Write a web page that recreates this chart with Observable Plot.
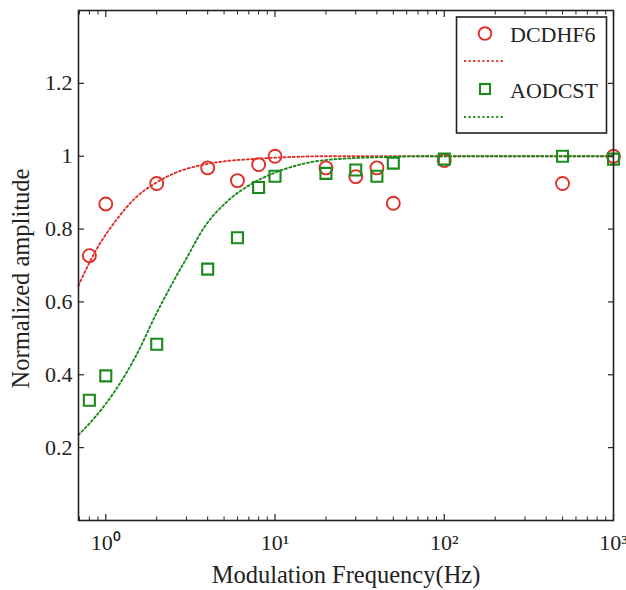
<!DOCTYPE html>
<html><head><meta charset="utf-8">
<script src="https://cdn.jsdelivr.net/npm/d3@7"></script>
<script src="https://cdn.jsdelivr.net/npm/@observablehq/plot@0.6"></script>
<style>
body{margin:0;background:#fff;}
#wrap{position:relative;width:626px;height:590px;}
#legend{position:absolute;left:0;top:0;pointer-events:none;}
</style></head><body><div id="wrap"></div>
<script>
// Measured data
const freq = [0.8, 1, 2, 4, 6, 8, 10, 20, 30, 40, 50, 100, 500, 1000];
const dcdhf6 = [0.727, 0.869, 0.925, 0.968, 0.933, 0.977, 1.0, 0.968, 0.944, 0.968, 0.871, 0.988, 0.925, 1.0];
const aodcst = [0.33, 0.397, 0.484, 0.69, 0.776, 0.914, 0.945, 0.953, 0.962, 0.945, 0.981, 0.992, 1.0, 0.992];

// Fit curves
const fitFreqRed = [0.69, 0.873, 1.146, 1.5, 1.98, 2.6, 3.33, 4.0, 5.0, 7.2, 10, 15, 20, 1000];
const fitRed = [0.645, 0.741, 0.823, 0.886, 0.927, 0.955, 0.971, 0.979, 0.986, 0.992, 0.996, 0.999, 1.0, 1.0];
const fitFreqGreen = [0.69, 0.873, 1.146, 1.5, 2.0, 2.5, 3.0, 3.82, 5.25, 7.2, 10.4, 15.6, 26.9, 48.6, 70, 1000];
const fitGreen = [0.235, 0.286, 0.359, 0.45, 0.57, 0.655, 0.72, 0.805, 0.877, 0.923, 0.958, 0.982, 0.994, 0.998, 1.0, 1.0];

// Axes
const xTicks = [1, 10, 100, 1000];
const xTickLabels = ["10⁰", "10¹", "10²", "10³"];
const xMinorTicks = [0.7, 0.8, 0.9, 2, 3, 4, 5, 6, 7, 8, 9, 20, 30, 40, 50, 60, 70, 80, 90, 200, 300, 400, 500, 600, 700, 800, 900];
const yTicks = [0.2, 0.4, 0.6, 0.8, 1, 1.2];
const yTickLabels = ["0.2", "0.4", "0.6", "0.8", "1", "1.2"];
const seriesNames = ["DCDHF6", "AODCST"];
const xTitle = "Modulation Frequency(Hz)";
const yTitle = "Normalized amplitude";

const RED = "#e0302a", GREEN = "#1a8a1a", INK = "#222";
const FONT = "'Liberation Serif', 'Times New Roman', Times, serif";
const DASH = "2,2.6";

const pts = freq.map((f, i) => ({f, red: dcdhf6[i], green: aodcst[i]}));
const redFit = fitFreqRed.map((f, i) => ({f, v: fitRed[i]}));
const greenFit = fitFreqGreen.map((f, i) => ({f, v: fitGreen[i]}));

const chart = Plot.plot({
  width: 626, height: 590,
  marginLeft: 78, marginRight: 13, marginTop: 10, marginBottom: 70,
  style: {fontFamily: FONT, color: INK, background: "#fff"},
  x: {type: "log", domain: [0.69, 1000], axis: null},
  y: {domain: [0, 1.4], axis: null},
  marks: [
    Plot.line(redFit, {x: "f", y: "v", stroke: RED, strokeWidth: 1.9, strokeDasharray: DASH, curve: "monotone-x"}),
    Plot.line(greenFit, {x: "f", y: "v", stroke: GREEN, strokeWidth: 1.9, strokeDasharray: DASH, curve: "monotone-x"}),
    Plot.dot(pts, {x: "f", y: "red", r: 6.5, stroke: RED, strokeWidth: 1.9, fill: "none"}),
    Plot.dot(pts, {x: "f", y: "green", symbol: "square", r: 6.2, stroke: GREEN, strokeWidth: 2.1, fill: "none"}),
    // bottom axis
    Plot.axisX({anchor: "bottom", ticks: xTicks, tickSize: -6, tickPadding: 20, fontSize: 22, stroke: INK, strokeWidth: 1.2,
      tickFormat: (d) => xTickLabels[xTicks.indexOf(d)], label: null}),
    Plot.axisX({anchor: "bottom", ticks: xMinorTicks, tickSize: -3.5, tickFormat: () => "", stroke: INK, label: null}),
    Plot.axisX({anchor: "top", ticks: xTicks, tickSize: -6, tickFormat: () => "", stroke: INK, strokeWidth: 1.2, label: null}),
    Plot.axisX({anchor: "top", ticks: xMinorTicks, tickSize: -3.5, tickFormat: () => "", stroke: INK, label: null}),
    // left / right axis
    Plot.axisY({anchor: "left", ticks: yTicks, tickSize: -6, tickPadding: 12, fontSize: 22, stroke: INK, strokeWidth: 1.2,
      tickFormat: (d) => yTickLabels[yTicks.indexOf(d)], label: null}),
    Plot.axisY({anchor: "right", ticks: yTicks, tickSize: -6, tickFormat: () => "", stroke: INK, strokeWidth: 1.2, label: null}),
    Plot.frame({stroke: INK, strokeWidth: 1.6}),
    Plot.text([xTitle], {frameAnchor: "bottom", dy: 62, text: (d) => d, fontSize: 24.5, fill: INK}),
    Plot.text([yTitle], {frameAnchor: "left", textAnchor: "middle", dx: -57, dy: 13, rotate: -90, text: (d) => d, fontSize: 24.5, fill: INK})
  ]
});
document.getElementById("wrap").appendChild(chart);

// Legend
const lg = d3.select("#wrap").append("svg").attr("id", "legend").attr("width", 626).attr("height", 590);
lg.append("rect").attr("x", 456.5).attr("y", 17).attr("width", 150).attr("height", 116)
  .attr("fill", "#fff").attr("stroke", INK).attr("stroke-width", 1.6);
lg.append("circle").attr("cx", 485).attr("cy", 33.5).attr("r", 6.3).attr("fill", "none").attr("stroke", RED).attr("stroke-width", 1.9);
lg.append("text").attr("x", 510).attr("y", 41.5).text(seriesNames[0]).attr("font-family", FONT).attr("font-size", 22).attr("fill", INK);
lg.append("line").attr("x1", 464).attr("x2", 505).attr("y1", 61).attr("y2", 61).attr("stroke", RED).attr("stroke-width", 1.9).attr("stroke-dasharray", DASH);
lg.append("rect").attr("x", 480).attr("y", 84).attr("width", 10).attr("height", 10).attr("fill", "none").attr("stroke", GREEN).attr("stroke-width", 2.1);
lg.append("text").attr("x", 510).attr("y", 97.5).text(seriesNames[1]).attr("font-family", FONT).attr("font-size", 22).attr("fill", INK);
lg.append("line").attr("x1", 464).attr("x2", 505).attr("y1", 117).attr("y2", 117).attr("stroke", GREEN).attr("stroke-width", 1.9).attr("stroke-dasharray", DASH);
</script>
</body></html>
